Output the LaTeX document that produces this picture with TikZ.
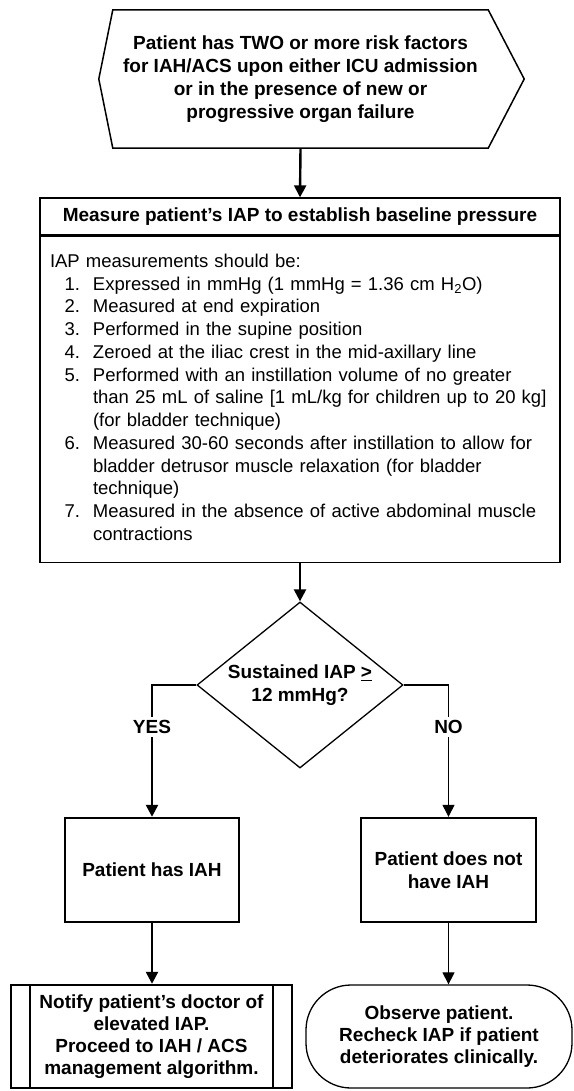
\documentclass[tikz,border=0pt]{standalone}
\usepackage{fontspec}
\setmainfont{Liberation Sans}
\usetikzlibrary{
  arrows.meta,
  positioning,
  shapes.geometric,
}
\newcommand{\stepno}[1]{\makebox[30pt][r]{#1}}

\begin{document}
\begin{tikzpicture}[x=1pt, y=-1pt,
  every node/.style={align=center, font=\bfseries\fontsize{19}{23}\selectfont},
  flow/.style={-{Triangle[width=12pt,length=12pt]}, line width=2.4pt},
  thinflow/.style={-{Triangle[width=12pt,length=12pt]}, line width=1.2pt},
  outcome/.style={draw, line width=2.4pt, minimum height=104pt},
  tag/.style={fill=white, inner sep=3pt}]
\useasboundingbox (0,0) rectangle (573,1091);

% entry condition
\node[minimum width=375pt, minimum height=138pt] (start) at (300.5,79)
  {Patient has TWO or more risk factors\\for IAH/ACS upon either ICU admission\\or in the presence of new or\\progressive organ failure};
\draw[line width=1.5pt] (start.north west) -- (start.north east) -- ([xshift=36pt]start.east)
  -- (start.south east) -- (start.south west) -- ([xshift=-14pt]start.west) -- cycle;

% measurement
\node[draw, line width=1.3pt, minimum width=520pt, minimum height=37pt] (head) at (300,216.5)
  {Measure patient's IAP to establish baseline pressure};
\node[draw, line width=1.3pt, anchor=north, minimum width=520pt, minimum height=326pt,
  text width=500pt, align=left, font=\mdseries\fontsize{18.5}{22.75}\selectfont] (steps) at (head.south) {%
  \begin{tabular}{@{}l@{\hspace{13pt}}l@{}}
  \multicolumn{2}{@{}l@{}}{IAP measurements should be:}\\
  \stepno{1.} & Expressed in mmHg (1 mmHg = 1.36 cm H\textsubscript{2}O)\\
  \stepno{2.} & Measured at end expiration\\
  \stepno{3.} & Performed in the supine position\\
  \stepno{4.} & Zeroed at the iliac crest in the mid-axillary line\\
  \stepno{5.} & Performed with an instillation volume of no greater\\
              & than 25 mL of saline [1 mL/kg for children up to 20 kg]\\
              & (for bladder technique)\\
  \stepno{6.} & Measured 30-60 seconds after instillation to allow for\\
              & bladder detrusor muscle relaxation (for bladder\\
              & technique)\\
  \stepno{7.} & Measured in the absence of active abdominal muscle\\
              & contractions
  \end{tabular}};

% decision
\node[diamond, draw, line width=1.3pt, aspect=1.24, minimum width=206pt, minimum height=166pt,
  inner sep=0pt] (check) at (300,685) {Sustained IAP \underline{>}\\12 mmHg?};

\node[outcome, minimum width=174pt] (yes) at (152,870) {Patient has IAH};
\node[outcome, minimum width=175pt] (no) at (448.5,870) {Patient does not\\have IAH};

% actions
\node[draw, line width=2.4pt, minimum width=281pt, minimum height=103pt,
  font=\bfseries\fontsize{19}{22}\selectfont] (notify) at (151.5,1036.5)
  {Notify patient's doctor of\\elevated IAP.\\Proceed to IAH / ACS\\management algorithm.};
\draw[line width=2.4pt] ([xshift=20pt]notify.north west) -- ([xshift=20pt]notify.south west)
  ([xshift=-20pt]notify.north east) -- ([xshift=-20pt]notify.south east);
\node[draw, line width=1.3pt, rounded corners=45pt, minimum width=266pt, minimum height=103pt,
  font=\bfseries\fontsize{19}{22}\selectfont] (observe) at (439,1036.5)
  {Observe patient.\\Recheck IAP if patient\\deteriorates clinically.};

\draw[flow] (start.south) -- (head.north);
\draw[flow] (steps.south) -- (check.north);
\draw[flow] (check.west) -| node[tag, pos=0.66] {YES} (yes.north);
\draw[thinflow] (check.east) -| node[tag, pos=0.66] {NO} (no.north);
\draw[flow] (yes.south) -- (yes.south |- notify.north);
\draw[thinflow] (no.south) -- (no.south |- observe.north);
\end{tikzpicture}
\end{document}
